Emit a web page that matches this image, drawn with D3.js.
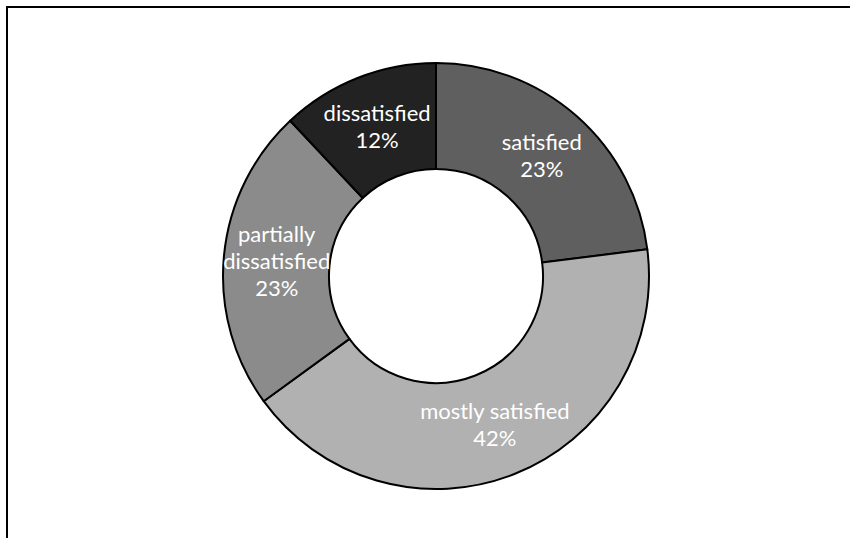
<!DOCTYPE html>
<html>
<head>
<meta charset="utf-8">
<script src="https://cdn.jsdelivr.net/npm/d3@7"></script>
<style>
html,body{margin:0;padding:0;background:#fff;}
svg{display:block;}
</style>
</head>
<body>
<svg id="chart" width="850" height="538"></svg>
<script>
const categories = ["satisfied", "mostly satisfied", "partially dissatisfied", "dissatisfied"];
const values = [23, 42, 23, 12];
const labelLines = [["satisfied"], ["mostly satisfied"], ["partially", "dissatisfied"], ["dissatisfied"]];
const colors = ["#5f5f5f", "#b1b1b1", "#8b8b8b", "#222222"];

const svg = d3.select("#chart");
const W = 850, H = 538;

// frame (top and left edges)
svg.append("line").attr("x1", 6).attr("y1", 7).attr("x2", W).attr("y2", 7)
  .attr("stroke", "#000").attr("stroke-width", 2);
svg.append("line").attr("x1", 7).attr("y1", 6).attr("x2", 7).attr("y2", H)
  .attr("stroke", "#000").attr("stroke-width", 2);

const cx = 436, cy = 276, Ro = 213, Ri = 107;
const data = categories.map((c, i) => ({ cat: c, value: values[i], lines: labelLines[i], color: colors[i] }));

const pie = d3.pie().value(d => d.value).sort(null);
const arc = d3.arc().innerRadius(Ri).outerRadius(Ro);
const arcs = pie(data);

const g = svg.append("g").attr("transform", `translate(${cx},${cy})`);
g.selectAll("path").data(arcs).join("path")
  .attr("d", arc)
  .attr("fill", d => d.data.color)
  .attr("stroke", "#000")
  .attr("stroke-width", 2)
  .attr("stroke-linejoin", "round");

const lh = 27;
const fmt = d3.format(".0%");
const total = d3.sum(values);
g.selectAll("text.lbl").data(arcs).join("text")
  .attr("class", "lbl")
  .attr("font-family", "Lato, 'Open Sans', sans-serif")
  .attr("font-size", 22)
  .attr("fill", "#fff")
  .attr("text-anchor", "middle")
  .each(function(d) {
    const [x, y] = arc.centroid(d);
    const lines = d.data.lines.concat([fmt(d.data.value / total)]);
    const n = lines.length;
    const t = d3.select(this);
    lines.forEach((ln, i) => {
      t.append("tspan")
        .attr("x", x)
        .attr("y", y + (i - (n - 1) / 2) * lh)
        .attr("dy", "0.35em")
        .text(ln);
    });
  });
</script>
</body>
</html>
